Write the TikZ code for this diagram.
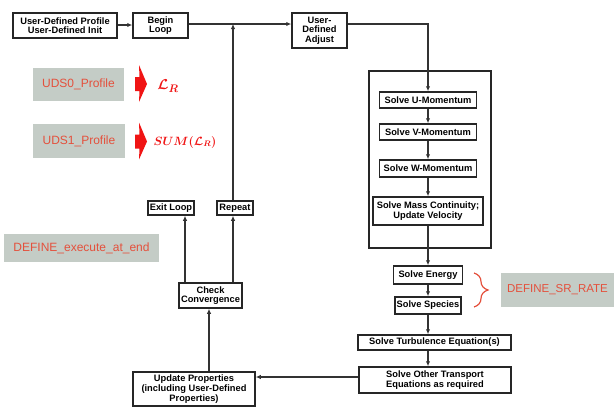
\documentclass[tikz,border=0pt]{standalone}
\usepackage{fontspec}
\setmainfont{Liberation Sans}
\usepackage{amsmath,bm}
\usetikzlibrary{arrows.meta,decorations.pathreplacing,calc}
\definecolor{tagfill}{RGB}{196,204,198}
\definecolor{tagred}{RGB}{228,80,60}
\definecolor{arrred}{RGB}{240,20,20}
\begin{document}
\begin{tikzpicture}[x=1pt,y=-1pt,
 box/.style={draw=black!85, line width=1.5pt, fill=white, font=\bfseries\fontsize{9.3}{9.6}\selectfont, align=center, inner sep=0pt},
 tag/.style={fill=tagfill, text=tagred, font=\fontsize{12}{12}\selectfont, inner sep=0pt},
 conn/.style={draw=black!80, line width=1.5pt},
 arr/.style={conn, -{Latex[length=5pt,width=4.5pt]}},
 redarrow/.style={fill=arrred, draw=none}]
\useasboundingbox (0,0) rectangle (614,407);

% helper coordinates
\coordinate (ly) at (0,24);
\coordinate (py) at (0,25);
\coordinate (oy) at (0,377);
\coordinate (rx) at (233,0);
\coordinate (ex) at (185,0);
\coordinate (cx) at (209,0);

% big loop box
\node[draw=black!85, line width=1.5pt, minimum width=122pt, minimum height=177pt, inner sep=0pt] (big) at (430,159.5) {};

% flow boxes
\node[box, minimum width=104pt, minimum height=25pt] (prof) at (65,25.5) {User-Defined Profile\\User-Defined Init};
\node[box, minimum width=55pt, minimum height=25pt] (begin) at (160.5,25.5) {Begin\\Loop};
\node[box, minimum width=55pt, minimum height=35pt] (adjust) at (319.5,30.5) {User-\\Defined\\Adjust};
\node[box, minimum width=97pt, minimum height=16pt] (U) at (428,100) {Solve U-Momentum};
\node[box, minimum width=97pt, minimum height=16pt] (V) at (428,132) {Solve V-Momentum};
\node[box, minimum width=97pt, minimum height=17pt] (W) at (428,168.5) {Solve W-Momentum};
\node[box, minimum width=110pt, minimum height=28pt] (M) at (428,211) {Solve Mass Continuity;\\Update Velocity};
\node[box, minimum width=69pt, minimum height=18pt] (E) at (428,275) {Solve Energy};
\node[box, minimum width=66pt, minimum height=17pt] (S) at (428,305.5) {Solve Species};
\node[box, minimum width=153pt, minimum height=15pt] (T) at (434.5,342.5) {Solve Turbulence Equation(s)};
\node[box, minimum width=152pt, minimum height=26pt] (O) at (435,380) {Solve Other Transport\\Equations as required};
\node[box, minimum width=122pt, minimum height=34pt] (UP) at (194,389) {Update Properties\\(including User-Defined\\Properties)};
\node[box, minimum width=63pt, minimum height=25pt] (CC) at (210.5,295.5) {Check\\Convergence};
\node[box, minimum width=46pt, minimum height=14pt] (EL) at (171,208) {Exit Loop};
\node[box, minimum width=36pt, minimum height=14pt] (R) at (235,208) {Repeat};

% connectors
\draw[arr] (prof.east |- py) -- (begin.west |- py);
\draw[arr] (begin.east |- ly) -- (adjust.west |- ly);
\draw[arr] (R.north -| rx) -- (rx |- ly);
\draw[arr] (adjust.east |- ly) -| (U.north);
\draw[arr] (U.south) -- (V.north);
\draw[arr] (V.south) -- (W.north);
\draw[arr] (W.south) -- (M.north);
\draw[arr] (M.south) -- (E.north);
\draw[arr] (E.south) -- (S.north);
\draw[arr] (S.south) -- (S.south |- T.north);
\draw[arr] (S.south |- T.south) -- (S.south |- O.north);
\draw[arr] (O.west |- oy) -- (UP.east |- oy);
\draw[arr] (UP.north -| cx) -- (CC.south -| cx);
\draw[arr] (CC.north -| ex) -- (EL.south -| ex);
\draw[arr] (CC.north -| rx) -- (R.south -| rx);

% UDF tags
\node[tag, minimum width=91pt, minimum height=33pt] (uds0) at (78.5,84.5) {UDS0\_Profile};
\node[tag, minimum width=92pt, minimum height=34pt] (uds1) at (79,141) {UDS1\_Profile};
\node[tag, minimum width=155pt, minimum height=28pt] (exe) at (81.5,248) {DEFINE\_execute\_at\_end};
\node[tag, minimum width=113pt, minimum height=34pt, font=\fontsize{11.5}{12}\selectfont] (srr) at (557.5,290) {DEFINE\_SR\_RATE};

% red block arrows
\fill[redarrow] (135,77) -- (139.5,77) -- (139,65) -- (147,84) -- (139,102) -- (139.5,91) -- (135,91) -- cycle;
\fill[redarrow] (135,134.5) -- (139.5,134.5) -- (139,122.5) -- (147,141.5) -- (139,159.5) -- (139.5,148.5) -- (135,148.5) -- cycle;

\node[text=arrred, font=\fontsize{15}{15}\selectfont, inner sep=0pt] (lr) at (168,86) {$\bm{\mathcal{L}_R}$};
\node[text=arrred, font=\fontsize{11.5}{11.5}\selectfont, inner sep=0pt] (sumlr) at (185,142) {$\bm{SUM(\mathcal{L}_R)}$};

% brace
\draw[tagred, line width=1.2pt, decorate, decoration={brace, amplitude=14pt}] (474,273) -- (474,307);
\end{tikzpicture}
\end{document}
